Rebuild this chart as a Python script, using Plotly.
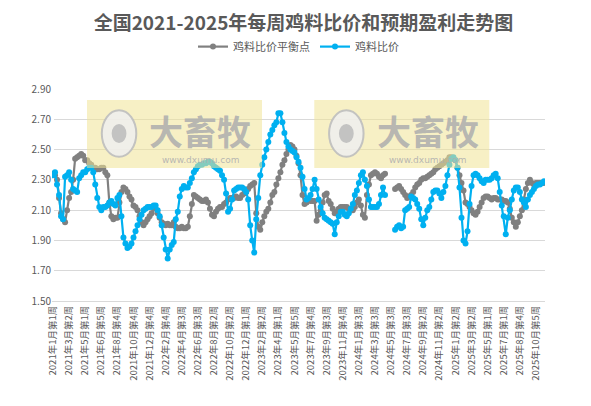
import plotly.graph_objects as go

TITLE = "全国2021-2025年每周鸡料比价和预期盈利走势图"
SERIES_NAMES = ["鸡料比价平衡点", "鸡料比价"]

TICK_LABELS = [
    "2021年1月第1周", "2021年3月第2周", "2021年5月第1周", "2021年6月第5周",
    "2021年8月第4周", "2021年10月第4周", "2021年12月第4周", "2022年2月第4周",
    "2022年4月第3周", "2022年6月第3周", "2022年8月第2周", "2022年10月第2周",
    "2022年12月第1周", "2023年2月第2周", "2023年4月第1周", "2023年5月第5周",
    "2023年7月第4周", "2023年9月第3周", "2023年11月第4周", "2024年1月第3周",
    "2024年3月第3周", "2024年5月第3周", "2024年7月第3周", "2024年9月第2周",
    "2024年11月第2周", "2025年1月第2周", "2025年3月第2周", "2025年5月第1周",
    "2025年7月第1周", "2025年8月第4周", "2025年10月第5周",
]

N = None
BALANCE = [
    2.34, 2.33, 2.30, 2.18, 2.08, 2.04, 2.02, 2.10, 2.18, 2.22,
    2.30, 2.44, 2.45, 2.46, 2.47, 2.46, 2.43, 2.43, 2.41, 2.40,
    2.38, 2.38, 2.37, 2.37, 2.38, 2.38, 2.35, 2.33, 2.15, 2.06,
    2.04, 2.05, 2.05, 2.15, 2.22, 2.25, 2.24, 2.22, 2.19, 2.17,
    2.13, 2.12, 2.10, 2.06, 2.02, 2.00, 2.02, 2.04, 2.06, 2.08,
    2.12, 2.11, 2.08, 2.05, 2.02, 2.01, 2.00, 2.01, 2.00, 2.00,
    2.02, 1.99, 1.98, 1.98, 1.99, 1.98, 1.98, 1.99, 2.06, 2.14,
    2.20, 2.19, 2.18, 2.17, 2.16, 2.16, 2.17, 2.15, 2.11, 2.07,
    2.06, 2.09, 2.11, 2.12, 2.12, 2.14, 2.15, 2.17, 2.18, 2.18,
    2.18, 2.19, 2.18, 2.18, 2.20, 2.21, 2.22, 2.24, 2.26, 2.27,
    2.28, 2.08, 1.99, 1.97, 2.02, 2.06, 2.09, 2.11, 2.15, 2.20,
    2.22, 2.27, 2.31, 2.35, 2.40, 2.43, 2.47, 2.50, 2.53, 2.52,
    2.50, 2.46, 2.41, 2.33, 2.20, 2.14, 2.15, 2.17, 2.16, 2.16,
    2.16, 2.03, 2.07, 2.10, 2.15, 2.20, 2.21, 2.16, 2.14, 2.11,
    2.08, 2.09, 2.11, 2.12, 2.12, 2.12, 2.12, 2.11, 2.11, 2.10,
    2.12, 2.15, 2.17, 2.13, 2.07, 2.05, 2.20, 2.27, 2.33, 2.34,
    2.35, 2.34, 2.32, 2.31, 2.33, 2.34, N, N, N, N,
    2.24, 2.25, 2.26, 2.24, 2.22, 2.20, 2.18, 2.19, 2.20, 2.22,
    2.25, 2.27, 2.28, 2.30, 2.31, 2.31, 2.32, 2.33, 2.34, 2.35,
    2.37, 2.38, 2.39, 2.40, 2.41, 2.42, 2.43, 2.45, 2.45, 2.44,
    2.43, 2.38, 2.33, 2.28, 2.23, 2.15, 2.14, 2.12, 2.10, 2.08,
    2.07, 2.09, 2.12, 2.15, 2.18, 2.19, 2.19, 2.18, 2.17, 2.18,
    2.18, 2.17, 2.17, 2.17, 2.16, 2.16, 2.15, 2.11, 2.05, 2.02,
    1.99, 2.02, 2.06, 2.10, 2.17, 2.24, 2.28, 2.30, 2.28, 2.27,
    2.28, 2.28, 2.28, 2.28, 2.28,
]
RATIO = [
    2.33, 2.35, 2.27, 2.20, 2.06, 2.04, 2.32, 2.33, 2.35, 2.30,
    2.24, 2.23, 2.22, 2.31, 2.33, 2.35, 2.35, 2.37, 2.38, 2.38,
    2.35, 2.27, 2.18, 2.12, 2.10, 2.12, 2.12, 2.13, 2.15, 2.16,
    2.14, 2.13, 2.18, 2.20, 2.06, 1.92, 1.88, 1.85, 1.86, 1.88,
    1.92, 1.96, 2.00, 2.04, 2.07, 2.10, 2.11, 2.12, 2.12, 2.12,
    2.13, 2.13, 2.10, 2.06, 2.00, 1.92, 1.84, 1.78, 1.84, 1.87,
    1.89, 2.04, 2.09, 2.19, 2.24, 2.26, 2.25, 2.25, 2.28, 2.31,
    2.35, 2.37, 2.39, 2.40, 2.40, 2.41, 2.41, 2.42, 2.42, 2.41,
    2.39, 2.38, 2.37, 2.36, 2.33, 2.30, 2.21, 2.09, 2.11, 2.17,
    2.23, 2.24, 2.25, 2.25, 2.25, 2.24, 2.22, 2.17, 2.00, 1.90,
    1.82, 2.04, 2.18, 2.33, 2.40, 2.45, 2.50, 2.55, 2.60, 2.63,
    2.66, 2.68, 2.74, 2.74, 2.68, 2.61, 2.55, 2.52, 2.50, 2.49,
    2.48, 2.45, 2.42, 2.38, 2.32, 2.24, 2.17, 2.18, 2.20, 2.24,
    2.30, 2.24, 2.17, 2.12, 2.08, 2.05, 2.04, 2.03, 2.02, 2.01,
    1.94, 2.02, 2.06, 2.09, 2.09, 2.07, 2.06, 2.08, 2.11, 2.14,
    2.20, 2.23, 2.28, 2.33, 2.35, 2.30, 2.26, 2.17, 2.12, 2.12,
    2.12, 2.12, 2.14, 2.20, 2.25, 2.20, N, N, N, N,
    1.97, 1.99, 2.00, 1.98, 1.99, 2.10, 2.11, 2.12, 2.19, 2.18,
    2.17, 2.14, 2.11, 2.04, 2.00, 2.05, 2.10, 2.12, 2.17, 2.22,
    2.23, 2.23, 2.21, 2.18, 2.22, 2.26, 2.33, 2.40, 2.44, 2.45,
    2.43, 2.38, 2.25, 2.05, 1.90, 1.88, 1.96, 2.14, 2.26, 2.33,
    2.34, 2.33, 2.31, 2.29, 2.28, 2.30, 2.30, 2.30, 2.31, 2.33,
    2.34, 2.31, 2.22, 2.13, 2.06, 1.94, 2.05, 2.10, 2.17, 2.23,
    2.25, 2.25, 2.22, 2.17, 2.15, 2.12, 2.17, 2.20, 2.22, 2.24,
    2.26, 2.27, 2.27, 2.28, 2.29,
]

GRAY = "#808080"
BLUE = "#00B0F0"
FONT = "Noto Sans CJK SC"

x = list(range(len(RATIO)))
fig = go.Figure()
for name, values, color in [(SERIES_NAMES[0], BALANCE, GRAY), (SERIES_NAMES[1], RATIO, BLUE)]:
    fig.add_trace(
        go.Scatter(
            x=x, y=values, name=name, mode="lines+markers",
            line=dict(color=color, width=2.2),
            marker=dict(color=color, size=6),
            connectgaps=False,
        )
    )

# page body has an 8px offset, so margins are shifted up/left by 8px
fig.update_layout(
    width=591, height=406,
    margin=dict(l=44, r=54, t=81, b=113, autoexpand=False),
    plot_bgcolor="white", paper_bgcolor="white",
    font=dict(family=FONT, color="#595959"),
    title=dict(text=f"<b>{TITLE}</b>", x=0.5, xanchor="center", y=0.962, yanchor="middle",
               font=dict(size=19, color="#595959")),
    legend=dict(orientation="h", x=0.5, xanchor="center", y=1.2, yanchor="middle",
                font=dict(size=11, color="#595959")),
    showlegend=True,
)
fig.update_yaxes(range=[1.5, 2.9], dtick=0.2, tick0=1.5, tickformat=".2f",
                 gridcolor="#d9d9d9", zeroline=False, tickfont=dict(size=10),
                 automargin=False)
fig.update_xaxes(range=[-0.5, len(x) - 0.5], tickmode="array",
                 tickvals=list(range(0, 8 * len(TICK_LABELS), 8)), ticktext=TICK_LABELS,
                 tickangle=-90, tickfont=dict(size=9.5), showgrid=False,
                 showline=True, linecolor="#d9d9d9", automargin=False)

# watermark boxes (paper coords relative to the plot area)
for x0 in [0.071, 0.532]:
    x1 = x0 + 0.355
    fig.add_shape(type="rect", xref="paper", yref="paper", x0=x0, x1=x1, y0=0.627, y1=0.948,
                  fillcolor="rgba(240,228,150,0.55)", line_width=0, layer="above")
    fig.add_shape(type="circle", xref="paper", yref="paper", x0=x0 + 0.03, x1=x0 + 0.1,
                  y0=0.68, y1=0.90, fillcolor="rgba(238,238,238,0.85)",
                  line=dict(color="rgba(190,190,190,0.9)", width=2), layer="above")
    fig.add_shape(type="circle", xref="paper", yref="paper", x0=x0 + 0.05, x1=x0 + 0.08,
                  y0=0.745, y1=0.835, fillcolor="rgba(190,190,190,0.9)", line_width=0, layer="above")
    fig.add_annotation(text="<b>大畜牧</b>", xref="paper", yref="paper", x=x0 + 0.23, y=0.805,
                       xanchor="center", yanchor="middle", showarrow=False,
                       font=dict(family=FONT, size=34, color="rgba(175,175,175,0.9)"))
    fig.add_annotation(text="www.dxumu.com", xref="paper", yref="paper", x=x0 + 0.23, y=0.665,
                       xanchor="center", yanchor="middle", showarrow=False,
                       font=dict(family="DejaVu Sans", size=9, color="rgba(175,175,175,0.9)"))

fig.write_html("out.html")
